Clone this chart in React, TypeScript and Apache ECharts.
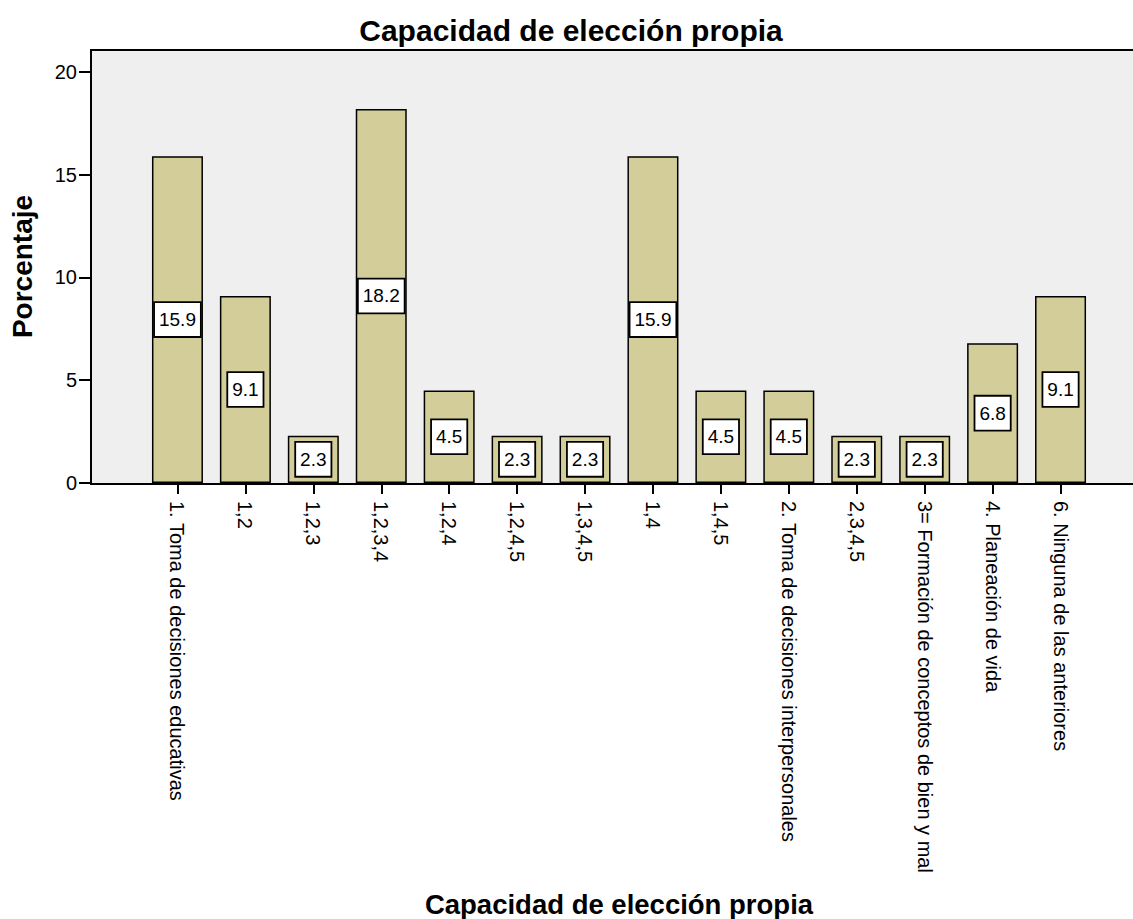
import React, { useEffect, useRef } from "react";
import * as echarts from "echarts";

const categories = [
  "1. Toma de decisiones educativas",
  "1,2",
  "1,2,3",
  "1,2,3,4",
  "1,2,4",
  "1,2,4,5",
  "1,3,4,5",
  "1,4",
  "1,4,5",
  "2. Toma de decisiones interpersonales",
  "2,3,4,5",
  "3= Formación de conceptos de bien y mal",
  "4. Planeación de vida",
  "6. Ninguna de las anteriores",
];
const values = [15.9, 9.1, 2.3, 18.2, 4.5, 2.3, 2.3, 15.9, 4.5, 4.5, 2.3, 2.3, 6.8, 9.1];
const yTicks = [0, 5, 10, 15, 20];
const titleText = "Capacidad de elección propia";
const xName = "Capacidad de elección propia";
const yName = "Porcentaje";

const FONT = "'Liberation Sans', Arial, sans-serif";

export default function App() {
  const ref = useRef<HTMLDivElement>(null);
  useEffect(() => {
    const chart = echarts.init(ref.current!, null, { renderer: "svg" });
    chart.setOption({
      animation: false,
      backgroundColor: "#ffffff",
      textStyle: { fontFamily: FONT },
      title: {
        text: titleText,
        left: 566,
        top: 10,
        textAlign: "center",
        textStyle: { fontFamily: FONT, fontSize: 30, fontWeight: "bold", color: "#000" },
      },
      graphic: [
        {
          type: "rect",
          z: -10,
          shape: { x: 91, y: 50, width: 1060, height: 434 },
          style: { fill: "#efefef", stroke: "#000", lineWidth: 2 },
        },
        {
          type: "line",
          z: 100,
          shape: { x1: 91, y1: 484, x2: 1133, y2: 484 },
          style: { stroke: "#000", lineWidth: 2 },
        },
      ],
      grid: { left: 143.5, right: 38.5, top: 50, bottom: 435, containLabel: false },
      xAxis: {
        type: "category",
        data: categories,
        name: xName,
        nameLocation: "middle",
        nameGap: 407,
        nameTextStyle: { fontFamily: FONT, fontSize: 27.5, fontWeight: "bold", color: "#000", verticalAlign: "top" },
        axisLine: { show: false },
        axisTick: { show: true, alignWithLabel: true, length: 11, lineStyle: { color: "#000", width: 2 } },
        axisLabel: {
          rotate: -90,
          interval: 0,
          margin: 18,
          fontFamily: FONT,
          fontSize: 20,
          color: "#000",
        },
      },
      yAxis: {
        type: "value",
        min: 0,
        max: 21.07,
        interval: 5,
        offset: 52.5,
        name: yName,
        nameLocation: "middle",
        nameGap: 55,
        nameRotate: 90,
        nameTextStyle: { fontFamily: FONT, fontSize: 28, fontWeight: "bold", color: "#000" },
        axisLine: { show: true, lineStyle: { color: "#000", width: 2 } },
        axisTick: { show: true, length: 12, lineStyle: { color: "#000", width: 2 } },
        axisLabel: {
          margin: 14,
          fontFamily: FONT,
          fontSize: 20,
          color: "#000",
          showMaxLabel: false,
          formatter: (v: number) => (yTicks.includes(v) ? String(v) : ""),
        },
        splitLine: { show: false },
      },
      series: [
        {
          type: "bar",
          data: values,
          barWidth: 51,
          itemStyle: { color: "#d3ce99", borderColor: "#000", borderWidth: 1.5 },
          label: {
            show: true,
            position: "inside",
            formatter: (p: any) => p.value.toFixed(1),
            fontFamily: FONT,
            fontSize: 19,
            lineHeight: 21,
            color: "#000",
            backgroundColor: "#fff",
            borderColor: "#000",
            borderWidth: 1.8,
            padding: [7, 4, 5, 4],
          },
        },
      ],
    });
    return () => chart.dispose();
  }, []);
  return <div ref={ref} style={{ width: 1133, height: 919, position: "absolute", left: 0, top: 0 }} />;
}
